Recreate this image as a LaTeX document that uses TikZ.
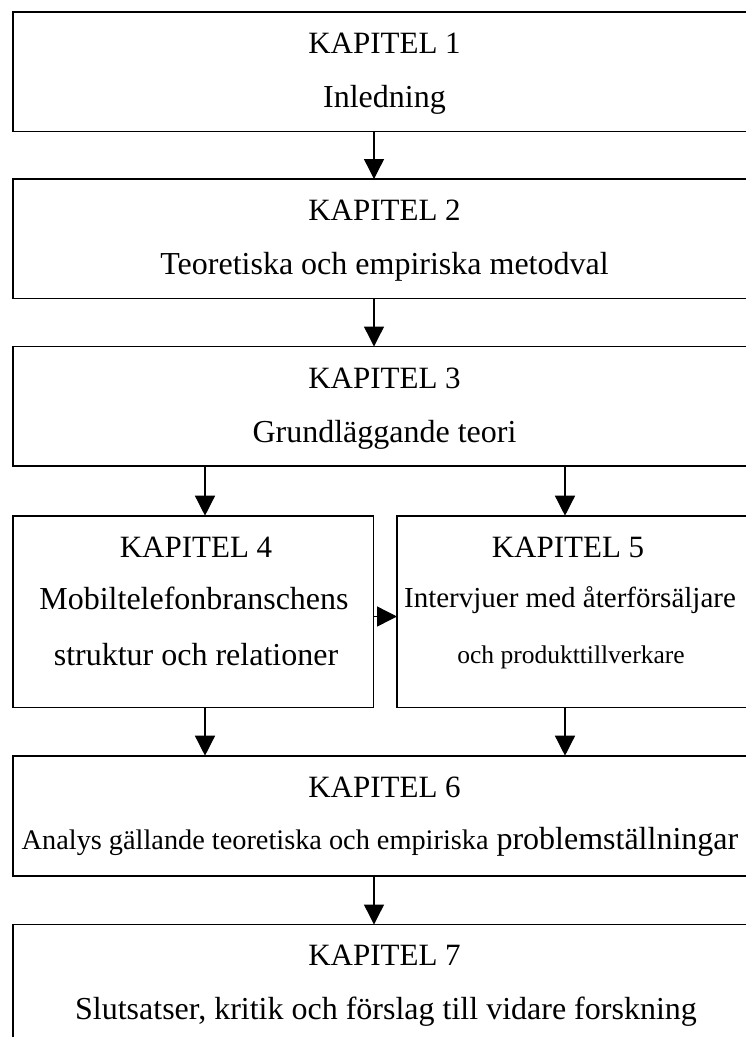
\documentclass[tikz,border=0pt]{standalone}
\usepackage{fontspec}
\setmainfont{Liberation Serif}
\usetikzlibrary{arrows.meta}
\begin{document}
\begin{tikzpicture}[x=1pt, y=-1pt,
  box/.style={draw, line width=1.6pt, inner sep=0pt, outer sep=0pt},
  conn/.style={line width=1.4pt, -{Triangle[length=20pt,width=20pt]}},
  txt/.style={anchor=base, inner sep=0pt, outer sep=0pt, font=\fontsize{31}{37}\selectfont},
  body/.style={txt, font=\fontsize{32}{38}\selectfont}
]
% page frame
\path[use as bounding box] (0,0) rectangle (746,1037);

% chapter boxes (right edges run past the page)
\node[box, minimum width=744.3pt, minimum height=119.6pt] (b1) at (384.85,71.5) {};
\node[box, minimum width=744.3pt, minimum height=119.6pt] (b2) at (384.85,238.8) {};
\node[box, minimum width=744.3pt, minimum height=119.6pt] (b3) at (384.85,406.3) {};
\node[box, minimum width=360.6pt, minimum height=191.8pt] (b4) at (193,611.6) {};
\node[box, minimum width=360pt, minimum height=191.8pt] (b5) at (577,611.6) {};
\node[box, minimum width=744.3pt, minimum height=120pt] (b6) at (384.85,815.7) {};
\node[box, minimum width=744.3pt, minimum height=120pt] (b7) at (384.85,984.5) {};

% texts
\node[txt] (t1a) at (384.5,53) {KAPITEL 1};
\node[body] (t1b) at (384.5,107) {Inledning};
\node[txt] (t2a) at (384.5,220.5) {KAPITEL 2};
\node[body] (t2b) at (384.5,274.5) {Teoretiska och empiriska metodval};
\node[txt] (t3a) at (384.5,388) {KAPITEL 3};
\node[body] (t3b) at (384.5,442) {Grundläggande teori};
\node[txt] (t4a) at (196,557) {KAPITEL 4};
\node[body] (t4b) at (194,609) {Mobiltelefonbranschens};
\node[body] (t4c) at (196,665) {struktur och relationer};
\node[txt] (t5a) at (568,557) {KAPITEL 5};
\node[txt, font=\fontsize{29}{34}\selectfont] (t5b) at (570,607) {Intervjuer med återförsäljare};
\node[txt, font=\fontsize{25.5}{30}\selectfont] (t5c) at (571,663) {och produkttillverkare};
\node[txt] (t6a) at (384.5,797) {KAPITEL 6};
\node[body] (t6b) at (380,849) {{\fontsize{28.3}{34}\selectfont Analys gällande teoretiska och empiriska} problemställningar};
\node[txt] (t7a) at (384.5,965.5) {KAPITEL 7};
\node[body] (t7b) at (386,1019) {Slutsatser, kritik och förslag till vidare forskning};

% connector columns and row
\coordinate (mid) at (374,0);
\coordinate (lft) at (205,0);
\coordinate (rgt) at (565,0);
\coordinate (row) at (0,616.5);

\draw[conn] (b1.south -| mid) -- (b2.north -| mid);
\draw[conn] (b2.south -| mid) -- (b3.north -| mid);
\draw[conn] (b3.south -| lft) -- (b4.north -| lft);
\draw[conn] (b3.south -| rgt) -- (b5.north -| rgt);
\draw[conn] (b4.east |- row) -- (b5.west |- row);
\draw[conn] (b4.south -| lft) -- (b6.north -| lft);
\draw[conn] (b5.south -| rgt) -- (b6.north -| rgt);
\draw[conn] (b6.south -| mid) -- (b7.north -| mid);
\end{tikzpicture}
\end{document}
